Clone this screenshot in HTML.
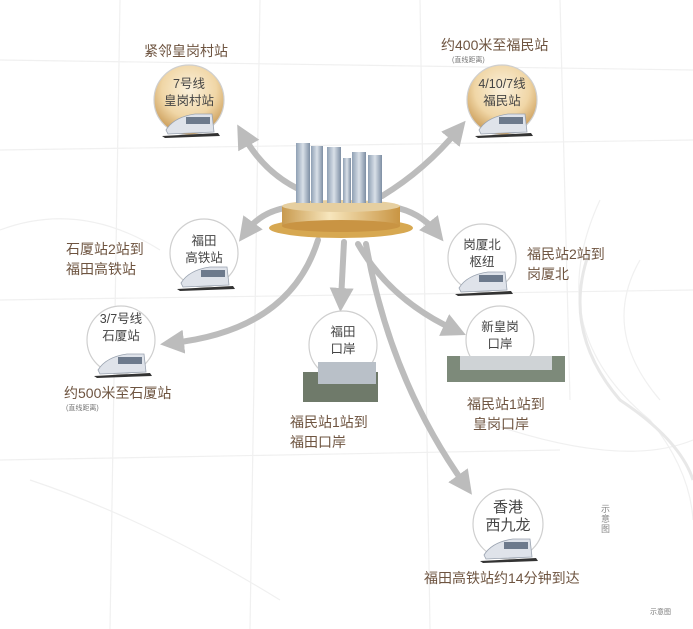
<!DOCTYPE html>
<html><head><meta charset="utf-8"><style>
html,body{margin:0;padding:0;background:#fff;}
body{width:693px;height:629px;overflow:hidden;position:relative;font-family:"Liberation Sans","Noto Sans CJK SC",sans-serif;}
svg{position:absolute;left:0;top:0;}
</style></head><body>
<svg width="693" height="629" viewBox="0 0 693 629" font-family="Liberation Sans, Noto Sans CJK SC, sans-serif">
<defs>
<radialGradient id="gold" cx="50%" cy="35%" r="65%">
<stop offset="0" stop-color="#fbf1dc"/><stop offset="0.6" stop-color="#f0d6a6"/><stop offset="1" stop-color="#c99a55"/></radialGradient>
<linearGradient id="plat" x1="0" x2="1"><stop offset="0" stop-color="#c89a4e"/><stop offset="0.4" stop-color="#f7e6bd"/><stop offset="1" stop-color="#c99543"/></linearGradient>
<linearGradient id="bld" x1="0" x2="1"><stop offset="0" stop-color="#8fa0b4"/><stop offset="0.5" stop-color="#d9e0e8"/><stop offset="1" stop-color="#7d8ea3"/></linearGradient>
<marker id="ah" markerWidth="4" markerHeight="4" refX="2" refY="2" orient="auto"><path d="M0,0 L4,2 L0,4 z" fill="#bcbcbc"/></marker>
<g id="train"><path d="M-26,8 Q-18,-5 3,-8 L20,-8 L22,10 L-24,12 z" fill="#dfe3ea" stroke="#9aa3b0" stroke-width="0.8"/><rect x="-6" y="-5" width="24" height="7" fill="#6d7a8c"/><path d="M-30,14 L26,11 L28,14 L-27,16z" fill="#333"/></g>
</defs>
<g stroke="#f0f0f0" stroke-width="1.2" fill="none">
<path d="M0,60 L693,70"/><path d="M0,150 L693,140"/><path d="M0,300 L693,290"/><path d="M0,460 L560,450"/>
<path d="M120,0 L110,629"/><path d="M260,0 L250,629"/><path d="M420,0 L430,629"/><path d="M560,0 L570,400"/>
<path d="M600,200 Q540,330 650,420 Q690,470 693,520"/><path d="M480,420 Q620,470 693,440"/><path d="M0,230 Q80,200 160,250"/>
<path d="M30,480 Q150,520 280,600"/><path d="M640,260 Q600,330 660,400"/>
</g>
<g stroke="#e8e8e8" stroke-width="3" fill="none"><path d="M590,250 Q560,330 620,400 Q680,440 693,480"/></g>
<g stroke="#bcbcbc" stroke-width="6" fill="none" stroke-linecap="round" marker-end="url(#ah)">
<path d="M305,192 Q265,175 243,135"/>
<path d="M382,196 Q425,170 458,130"/>
<path d="M292,207 Q262,210 246,232"/>
<path d="M393,207 Q420,212 436,232"/>
<path d="M318,240 Q290,330 172,343"/>
<path d="M344,242 L341,300"/>
<path d="M358,244 Q390,300 455,330"/>
<path d="M366,244 Q390,380 465,485"/>
</g>
<ellipse cx="341" cy="228" rx="72" ry="10" fill="#d7a851"/>
<rect x="282" y="206" width="118" height="20" fill="url(#plat)"/>
<ellipse cx="341" cy="226" rx="59" ry="6" fill="#c99443"/>
<ellipse cx="341" cy="206" rx="59" ry="6" fill="#e6cfa0"/>
<g fill="url(#bld)">
<rect x="296" y="143" width="14" height="60"/><rect x="311" y="146" width="12" height="57"/>
<rect x="327" y="147" width="14" height="56"/><rect x="343" y="158" width="8" height="45"/>
<rect x="352" y="152" width="14" height="51"/><rect x="368" y="155" width="14" height="48"/>
</g>
<g stroke="#cfcfcf" stroke-width="1.2">
<circle cx="189" cy="100" r="35" fill="url(#gold)"/>
<circle cx="502" cy="100" r="35" fill="url(#gold)"/>
<circle cx="204" cy="253" r="34" fill="#fff"/>
<circle cx="482" cy="258" r="34" fill="#fff"/>
<circle cx="121" cy="340" r="34" fill="#fff"/>
<circle cx="343" cy="345" r="34" fill="#fff"/>
<circle cx="500" cy="340" r="34" fill="#fff"/>
<circle cx="508" cy="524" r="35" fill="#fff"/>
</g>
<use href="#train" x="192" y="122"/><use href="#train" x="505" y="122"/>
<use href="#train" x="207" y="275"/><use href="#train" x="485" y="280"/>
<use href="#train" x="124" y="362"/><use href="#train" x="510" y="547"/>
<rect x="303" y="372" width="75" height="30" fill="#6f7a6a"/><rect x="318" y="362" width="58" height="22" fill="#b9c0c8"/>
<rect x="447" y="356" width="118" height="26" fill="#7d8a7a"/><rect x="460" y="356" width="92" height="14" fill="#cfd3d6"/>
<g font-size="12.5" fill="#444" text-anchor="middle">
<text x="189" y="88">7号线</text><text x="189" y="105">皇岗村站</text>
<text x="502" y="88">4/10/7线</text><text x="502" y="105">福民站</text>
<text x="204" y="245">福田</text><text x="204" y="262">高铁站</text>
<text x="482" y="249">岗厦北</text><text x="482" y="266">枢纽</text>
<text x="121" y="323">3/7号线</text><text x="121" y="340">石厦站</text>
<text x="343" y="336">福田</text><text x="343" y="353">口岸</text>
<text x="500" y="331">新皇岗</text><text x="500" y="348">口岸</text>
</g>
<g font-size="15" fill="#444" text-anchor="middle"><text x="508" y="512">香港</text><text x="508" y="530">西九龙</text></g>
<g font-size="14" fill="#6e5440">
<text x="144" y="56">紧邻皇岗村站</text>
<text x="441" y="50">约400米至福民站</text>
<text x="66" y="254">石厦站2站到</text><text x="66" y="274">福田高铁站</text>
<text x="527" y="259">福民站2站到</text><text x="527" y="279">岗厦北</text>
<text x="64" y="398">约500米至石厦站</text>
<text x="467" y="409">福民站1站到</text><text x="473" y="429">皇岗口岸</text>
<text x="290" y="427">福民站1站到</text><text x="290" y="447">福田口岸</text>
<text x="424" y="583">福田高铁站约14分钟到达</text>
</g>
<g font-size="7" fill="#777">
<text x="452" y="62">(直线距离)</text><text x="66" y="410">(直线距离)</text>
<text x="650" y="614">示意图</text>
</g>
<g font-size="9" fill="#888"><text x="601" y="512">示</text><text x="601" y="522">意</text><text x="601" y="532">图</text></g>
</svg>
</body></html>
